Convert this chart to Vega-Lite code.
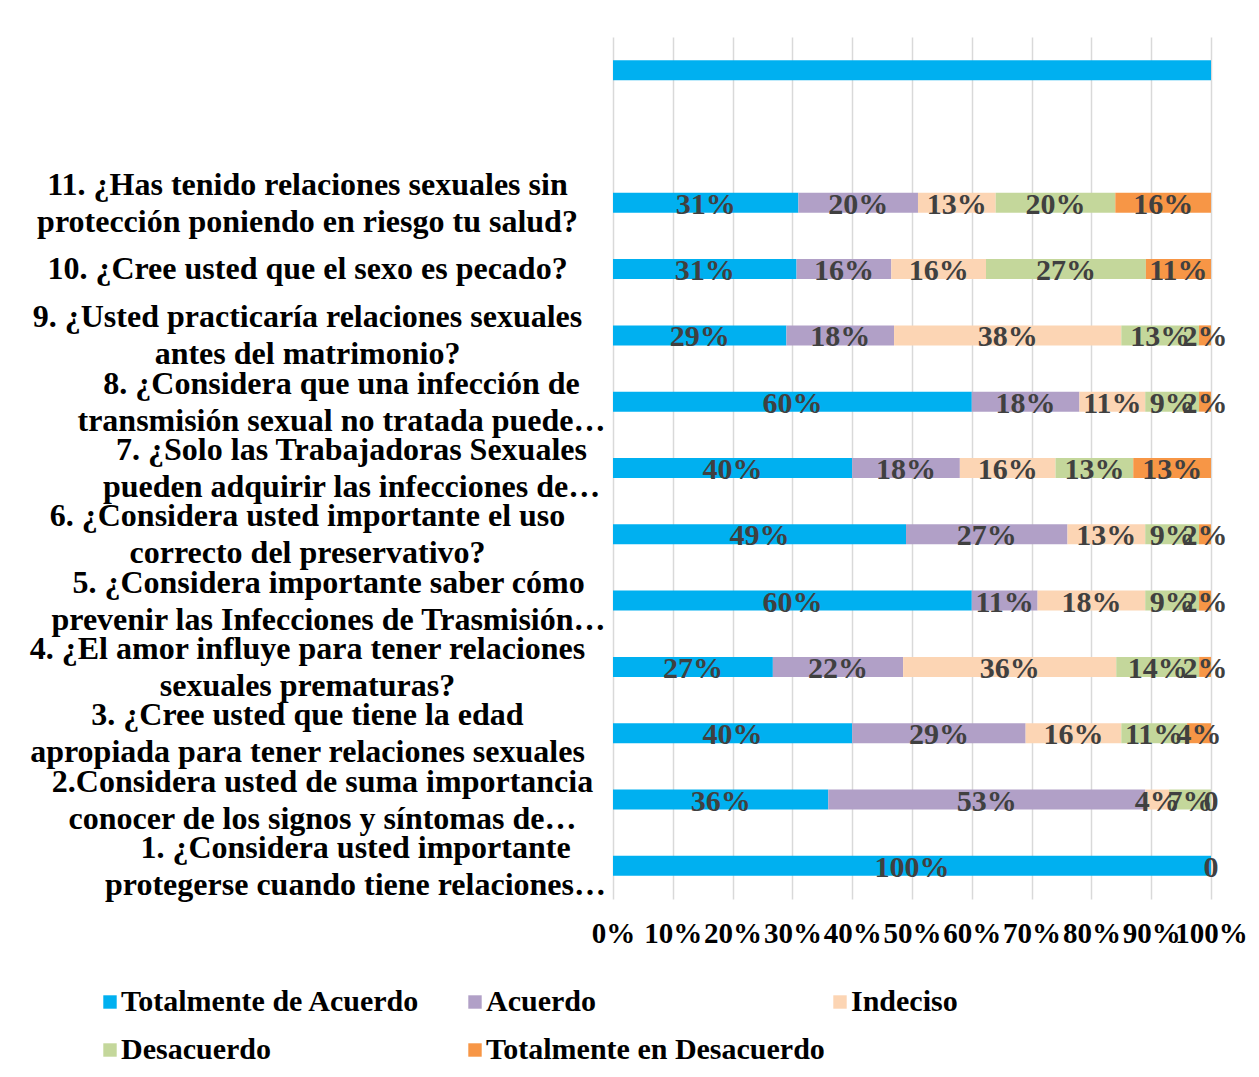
{
  "$schema": "https://vega.github.io/schema/vega-lite/v6.json",
  "width": 598,
  "height": 862,
  "autosize": {"type": "none"},
  "padding": {"left": 613, "top": 37, "right": 48, "bottom": 178},
  "background": "white",
  "config": {"font": "Liberation Serif", "view": {"stroke": null}},
  "data": {"values": [
    {"q": "t", "resp": "Totalmente de Acuerdo", "v": 100, "lab": ""},
    {"q": "11. ¿Has tenido relaciones sexuales sin|protección poniendo en riesgo tu salud?", "resp": "Totalmente de Acuerdo", "v": 31, "lab": "31%"},
    {"q": "11. ¿Has tenido relaciones sexuales sin|protección poniendo en riesgo tu salud?", "resp": "Acuerdo", "v": 20, "lab": "20%"},
    {"q": "11. ¿Has tenido relaciones sexuales sin|protección poniendo en riesgo tu salud?", "resp": "Indeciso", "v": 13, "lab": "13%"},
    {"q": "11. ¿Has tenido relaciones sexuales sin|protección poniendo en riesgo tu salud?", "resp": "Desacuerdo", "v": 20, "lab": "20%"},
    {"q": "11. ¿Has tenido relaciones sexuales sin|protección poniendo en riesgo tu salud?", "resp": "Totalmente en Desacuerdo", "v": 16, "lab": "16%"},
    {"q": "10. ¿Cree usted que el sexo es pecado?", "resp": "Totalmente de Acuerdo", "v": 31, "lab": "31%"},
    {"q": "10. ¿Cree usted que el sexo es pecado?", "resp": "Acuerdo", "v": 16, "lab": "16%"},
    {"q": "10. ¿Cree usted que el sexo es pecado?", "resp": "Indeciso", "v": 16, "lab": "16%"},
    {"q": "10. ¿Cree usted que el sexo es pecado?", "resp": "Desacuerdo", "v": 27, "lab": "27%"},
    {"q": "10. ¿Cree usted que el sexo es pecado?", "resp": "Totalmente en Desacuerdo", "v": 11, "lab": "11%"},
    {"q": "9. ¿Usted practicaría relaciones sexuales|antes del matrimonio?", "resp": "Totalmente de Acuerdo", "v": 29, "lab": "29%"},
    {"q": "9. ¿Usted practicaría relaciones sexuales|antes del matrimonio?", "resp": "Acuerdo", "v": 18, "lab": "18%"},
    {"q": "9. ¿Usted practicaría relaciones sexuales|antes del matrimonio?", "resp": "Indeciso", "v": 38, "lab": "38%"},
    {"q": "9. ¿Usted practicaría relaciones sexuales|antes del matrimonio?", "resp": "Desacuerdo", "v": 13, "lab": "13%"},
    {"q": "9. ¿Usted practicaría relaciones sexuales|antes del matrimonio?", "resp": "Totalmente en Desacuerdo", "v": 2, "lab": "2%"},
    {"q": "8. ¿Considera que una infección de|transmisión sexual no tratada puede…", "resp": "Totalmente de Acuerdo", "v": 60, "lab": "60%"},
    {"q": "8. ¿Considera que una infección de|transmisión sexual no tratada puede…", "resp": "Acuerdo", "v": 18, "lab": "18%"},
    {"q": "8. ¿Considera que una infección de|transmisión sexual no tratada puede…", "resp": "Indeciso", "v": 11, "lab": "11%"},
    {"q": "8. ¿Considera que una infección de|transmisión sexual no tratada puede…", "resp": "Desacuerdo", "v": 9, "lab": "9%"},
    {"q": "8. ¿Considera que una infección de|transmisión sexual no tratada puede…", "resp": "Totalmente en Desacuerdo", "v": 2, "lab": "2%"},
    {"q": "7. ¿Solo las Trabajadoras Sexuales|pueden adquirir las infecciones de…", "resp": "Totalmente de Acuerdo", "v": 40, "lab": "40%"},
    {"q": "7. ¿Solo las Trabajadoras Sexuales|pueden adquirir las infecciones de…", "resp": "Acuerdo", "v": 18, "lab": "18%"},
    {"q": "7. ¿Solo las Trabajadoras Sexuales|pueden adquirir las infecciones de…", "resp": "Indeciso", "v": 16, "lab": "16%"},
    {"q": "7. ¿Solo las Trabajadoras Sexuales|pueden adquirir las infecciones de…", "resp": "Desacuerdo", "v": 13, "lab": "13%"},
    {"q": "7. ¿Solo las Trabajadoras Sexuales|pueden adquirir las infecciones de…", "resp": "Totalmente en Desacuerdo", "v": 13, "lab": "13%"},
    {"q": "6. ¿Considera usted importante el uso|correcto del preservativo?", "resp": "Totalmente de Acuerdo", "v": 49, "lab": "49%"},
    {"q": "6. ¿Considera usted importante el uso|correcto del preservativo?", "resp": "Acuerdo", "v": 27, "lab": "27%"},
    {"q": "6. ¿Considera usted importante el uso|correcto del preservativo?", "resp": "Indeciso", "v": 13, "lab": "13%"},
    {"q": "6. ¿Considera usted importante el uso|correcto del preservativo?", "resp": "Desacuerdo", "v": 9, "lab": "9%"},
    {"q": "6. ¿Considera usted importante el uso|correcto del preservativo?", "resp": "Totalmente en Desacuerdo", "v": 2, "lab": "2%"},
    {"q": "5. ¿Considera importante saber cómo|prevenir las Infecciones de Trasmisión…", "resp": "Totalmente de Acuerdo", "v": 60, "lab": "60%"},
    {"q": "5. ¿Considera importante saber cómo|prevenir las Infecciones de Trasmisión…", "resp": "Acuerdo", "v": 11, "lab": "11%"},
    {"q": "5. ¿Considera importante saber cómo|prevenir las Infecciones de Trasmisión…", "resp": "Indeciso", "v": 18, "lab": "18%"},
    {"q": "5. ¿Considera importante saber cómo|prevenir las Infecciones de Trasmisión…", "resp": "Desacuerdo", "v": 9, "lab": "9%"},
    {"q": "5. ¿Considera importante saber cómo|prevenir las Infecciones de Trasmisión…", "resp": "Totalmente en Desacuerdo", "v": 2, "lab": "2%"},
    {"q": "4. ¿El amor influye para tener relaciones|sexuales prematuras?", "resp": "Totalmente de Acuerdo", "v": 27, "lab": "27%"},
    {"q": "4. ¿El amor influye para tener relaciones|sexuales prematuras?", "resp": "Acuerdo", "v": 22, "lab": "22%"},
    {"q": "4. ¿El amor influye para tener relaciones|sexuales prematuras?", "resp": "Indeciso", "v": 36, "lab": "36%"},
    {"q": "4. ¿El amor influye para tener relaciones|sexuales prematuras?", "resp": "Desacuerdo", "v": 14, "lab": "14%"},
    {"q": "4. ¿El amor influye para tener relaciones|sexuales prematuras?", "resp": "Totalmente en Desacuerdo", "v": 2, "lab": "2%"},
    {"q": "3. ¿Cree usted que tiene la edad|apropiada para tener relaciones sexuales", "resp": "Totalmente de Acuerdo", "v": 40, "lab": "40%"},
    {"q": "3. ¿Cree usted que tiene la edad|apropiada para tener relaciones sexuales", "resp": "Acuerdo", "v": 29, "lab": "29%"},
    {"q": "3. ¿Cree usted que tiene la edad|apropiada para tener relaciones sexuales", "resp": "Indeciso", "v": 16, "lab": "16%"},
    {"q": "3. ¿Cree usted que tiene la edad|apropiada para tener relaciones sexuales", "resp": "Desacuerdo", "v": 11, "lab": "11%"},
    {"q": "3. ¿Cree usted que tiene la edad|apropiada para tener relaciones sexuales", "resp": "Totalmente en Desacuerdo", "v": 4, "lab": "4%"},
    {"q": "2.Considera usted de suma importancia|conocer de los signos y síntomas de…", "resp": "Totalmente de Acuerdo", "v": 36, "lab": "36%"},
    {"q": "2.Considera usted de suma importancia|conocer de los signos y síntomas de…", "resp": "Acuerdo", "v": 53, "lab": "53%"},
    {"q": "2.Considera usted de suma importancia|conocer de los signos y síntomas de…", "resp": "Indeciso", "v": 4, "lab": "4%"},
    {"q": "2.Considera usted de suma importancia|conocer de los signos y síntomas de…", "resp": "Desacuerdo", "v": 7, "lab": "7%"},
    {"q": "2.Considera usted de suma importancia|conocer de los signos y síntomas de…", "resp": "Totalmente en Desacuerdo", "v": 0, "lab": "0"},
    {"q": "1. ¿Considera usted importante|protegerse cuando tiene relaciones…", "resp": "Totalmente de Acuerdo", "v": 100, "lab": "100%"},
    {"q": "1. ¿Considera usted importante|protegerse cuando tiene relaciones…", "resp": "Totalmente en Desacuerdo", "v": 0, "lab": "0"}
  ]},
  "transform": [
    {"calculate": "indexof(['Totalmente de Acuerdo','Acuerdo','Indeciso','Desacuerdo','Totalmente en Desacuerdo'], datum.resp)", "as": "o"},
    {"stack": "v", "groupby": ["q"], "sort": [{"field": "o", "order": "ascending"}], "offset": "normalize", "as": ["v0", "v1"]},
    {"calculate": "(datum.v0 + datum.v1) / 2", "as": "mid"}
  ],
  "encoding": {
    "y": {
      "field": "q",
      "type": "nominal",
      "scale": {
        "domain": [
          "t", "g",
          "11. ¿Has tenido relaciones sexuales sin|protección poniendo en riesgo tu salud?",
          "10. ¿Cree usted que el sexo es pecado?",
          "9. ¿Usted practicaría relaciones sexuales|antes del matrimonio?",
          "8. ¿Considera que una infección de|transmisión sexual no tratada puede…",
          "7. ¿Solo las Trabajadoras Sexuales|pueden adquirir las infecciones de…",
          "6. ¿Considera usted importante el uso|correcto del preservativo?",
          "5. ¿Considera importante saber cómo|prevenir las Infecciones de Trasmisión…",
          "4. ¿El amor influye para tener relaciones|sexuales prematuras?",
          "3. ¿Cree usted que tiene la edad|apropiada para tener relaciones sexuales",
          "2.Considera usted de suma importancia|conocer de los signos y síntomas de…",
          "1. ¿Considera usted importante|protegerse cuando tiene relaciones…"
        ],
        "paddingInner": 0,
        "paddingOuter": 0
      },
      "axis": {
        "title": null,
        "domain": false,
        "ticks": false,
        "grid": false,
        "labelExpr": "datum.value == 't' || datum.value == 'g' ? '' : split(datum.value, '|')",
        "labelAlign": "center",
        "labelBaseline": "middle",
        "labelPadding": {
          "condition": [
            {"test": "indexof(datum.value, '8.') == 0", "value": 272},
            {"test": "indexof(datum.value, '7.') == 0", "value": 262},
            {"test": "indexof(datum.value, '5.') == 0", "value": 285},
            {"test": "indexof(datum.value, '2.') == 0", "value": 291},
            {"test": "indexof(datum.value, '1. ') == 0", "value": 258}
          ],
          "value": 306
        },
        "labelOffset": {"condition": {"test": "indexof(datum.value, '|') >= 0", "value": -18}, "value": 0},
        "labelFont": "Liberation Serif",
        "labelFontSize": 32,
        "labelFontWeight": "bold",
        "labelColor": "black",
        "labelLineHeight": 37,
        "labelLimit": 0,
        "labelOverlap": false
      }
    }
  },
  "layer": [
    {
      "mark": {"type": "bar", "size": 20},
      "encoding": {
        "x": {
          "field": "v0",
          "type": "quantitative",
          "scale": {"domain": [0, 1], "nice": false, "zero": true},
          "axis": {
            "title": null,
            "format": ".0%",
            "values": [0, 0.1, 0.2, 0.3, 0.4, 0.5, 0.6, 0.7, 0.8, 0.9, 1],
            "domain": false,
            "ticks": false,
            "grid": true,
            "gridColor": "#d9d9d9",
            "gridWidth": 1.5,
            "labelFont": "Liberation Serif",
            "labelFontSize": 29,
            "labelFontWeight": "bold",
            "labelColor": "black",
            "labelPadding": 20,
            "labelOverlap": false,
            "labelFlush": false
          }
        },
        "x2": {"field": "v1"},
        "color": {
          "field": "resp",
          "type": "nominal",
          "scale": {
            "domain": ["Totalmente de Acuerdo", "Acuerdo", "Indeciso", "Desacuerdo", "Totalmente en Desacuerdo"],
            "range": ["#00B0F0", "#B1A0C7", "#FCD5B4", "#C4D79B", "#F79646"]
          },
          "legend": {
            "orient": "none",
            "legendX": -518,
            "legendY": 950,
            "direction": "horizontal",
            "columns": 3,
            "gridAlign": "all",
            "title": null,
            "symbolType": "square",
            "symbolSize": 180,
            "symbolStrokeWidth": 0,
            "labelFont": "Liberation Serif",
            "labelFontSize": 30,
            "labelFontWeight": "bold",
            "labelColor": "black",
            "labelOffset": -4,
            "labelLimit": 600,
            "columnPadding": -7,
            "rowPadding": 18
          }
        }
      }
    },
    {
      "mark": {"type": "text", "font": "Liberation Serif", "fontSize": 30, "fontWeight": "bold", "color": "#404040", "baseline": "middle", "dy": 2},
      "encoding": {
        "x": {"field": "mid", "type": "quantitative"},
        "text": {"field": "lab"}
      }
    }
  ]
}
